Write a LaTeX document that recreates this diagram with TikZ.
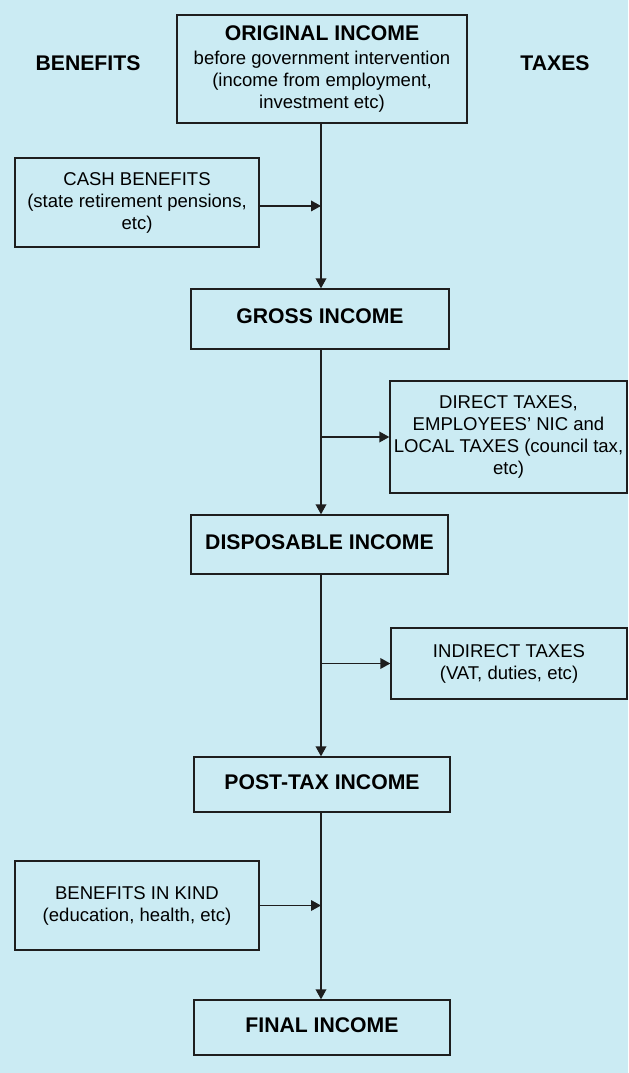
\documentclass[tikz,border=0pt]{standalone}
\usepackage{fontspec}
\setmainfont{Liberation Sans}
\usetikzlibrary{arrows.meta}
\definecolor{bg}{RGB}{203,235,243}
\definecolor{ln}{RGB}{30,30,30}
\newcommand\regfnt{\fontsize{13.9}{16.5}\selectfont}
\newcommand\boldfnt{\fontsize{15.9}{19}\selectfont\bfseries}
\begin{document}
\begin{tikzpicture}[x=0.75pt,y=-0.75pt,
  box/.style={draw=ln, line width=1pt, inner sep=0pt, align=center, text=black, font=\regfnt},
  title/.style={box, font=\boldfnt, text depth=4pt},
  label/.style={inner sep=0pt, text=black, font=\boldfnt},
  flow/.style={draw=ln, line width=1pt, -{Triangle[length=7.5pt,width=8pt]}}]
\fill[bg] (0,0) rectangle (628,1073);
\useasboundingbox (0,0) rectangle (628,1073);
\coordinate (spine) at (321,0);

\node[box, minimum width=290*0.75pt, minimum height=108*0.75pt] (orig) at (322,69)
  {{\boldfnt ORIGINAL INCOME}\\[2pt] before government intervention\\ (income from employment,\\ investment etc)};
\node[label] (benefits) at (88,63) {BENEFITS};
\node[label] (taxes) at (555,63) {TAXES};

\node[box, minimum width=244*0.75pt, minimum height=89*0.75pt] (cash) at (137,202.5)
  {CASH BENEFITS\\ (state retirement pensions,\\ etc)};
\node[title, minimum width=258*0.75pt, minimum height=60*0.75pt] (gross) at (320,319) {GROSS INCOME};
\node[box, minimum width=237*0.75pt, minimum height=112*0.75pt] (direct) at (508.5,437)
  {DIRECT TAXES,\\ EMPLOYEES' NIC and\\ LOCAL TAXES (council tax,\\ etc)};
\node[title, minimum width=257*0.75pt, minimum height=59*0.75pt] (disp) at (319.5,544.5) {DISPOSABLE INCOME};
\node[box, minimum width=236*0.75pt, minimum height=71*0.75pt] (indirect) at (509,663.5)
  {INDIRECT TAXES\\ (VAT, duties, etc)};
\node[title, minimum width=256*0.75pt, minimum height=55*0.75pt] (post) at (322,784.5) {POST-TAX INCOME};
\node[box, minimum width=244*0.75pt, minimum height=89*0.75pt] (bik) at (137,905.5)
  {BENEFITS IN KIND\\ (education, health, etc)};
\node[title, minimum width=256*0.75pt, minimum height=55*0.75pt] (final) at (322,1027.5) {FINAL INCOME};

\draw[flow] (orig.south -| spine) -- (gross.north -| spine);
\draw[flow] ([yshift=-2.6pt]cash.east) -- ([yshift=-2.6pt]cash.east -| spine);
\draw[flow] (gross.south -| spine) -- (disp.north -| spine);
\draw[flow] (spine |- direct.west) -- (direct.west);
\draw[flow] (disp.south -| spine) -- (post.north -| spine);
\draw[flow] (spine |- indirect.west) -- (indirect.west);
\draw[flow] (post.south -| spine) -- (final.north -| spine);
\draw[flow] (bik.east) -- (bik.east -| spine);
\end{tikzpicture}
\end{document}
